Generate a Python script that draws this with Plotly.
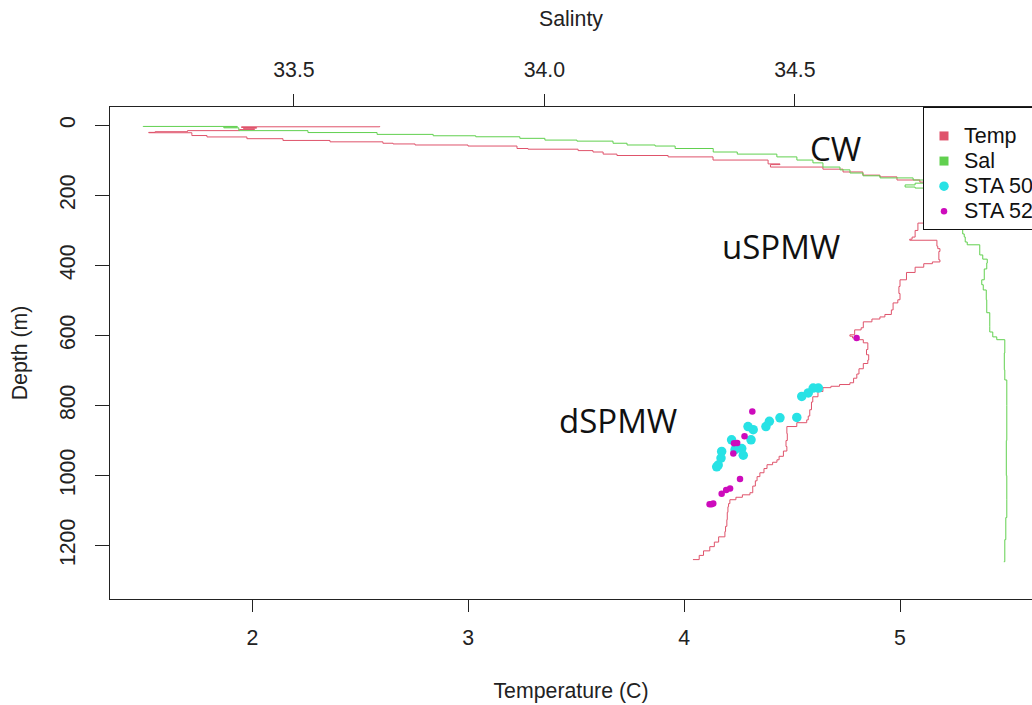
import plotly.graph_objects as go

# ---------------- data ----------------
# Temperature profile: depth (m) and temperature (C)
temp_depth = [2, 4, 6, 8, 10, 12, 15, 18, 20, 21, 25, 29, 33, 38, 43, 47, 51, 53, 56, 59,
              66, 68, 72, 76, 82, 86, 90, 99, 110, 112, 119, 125, 133, 142, 147, 156, 162,
              170, 185, 200, 220, 240, 260, 279, 300, 319, 325, 328, 345, 352, 360, 384,
              390, 395, 405, 420, 441, 460, 480, 498, 507, 527, 540, 547, 553, 561, 578,
              584, 598, 602, 607, 612, 621, 640, 655, 670, 680, 695, 710, 722, 735, 740,
              745, 749, 760, 775, 790, 812, 830, 841, 849, 860, 880, 900, 917, 930, 945,
              955, 962, 969, 980, 992, 1003, 1015, 1030, 1049, 1055, 1062, 1069, 1080,
              1089, 1105, 1126, 1145, 1160, 1175, 1190, 1203, 1215, 1228, 1240]
temp_vals = [2.59, 1.95, 2.02, 1.96, 2.01, 1.94, 1.70, 1.55, 1.52, 1.72, 1.72, 1.79, 1.975,
             2.142, 2.36, 2.605, 2.652, 2.754, 2.999, 3.226, 3.277, 3.509, 3.578, 3.625,
             3.689, 3.926, 4.134, 4.389, 4.444, 4.40, 4.643, 4.736, 4.828, 4.907, 4.986,
             5.092, 5.162, 5.20, 5.22, 5.23, 5.20, 5.17, 5.12, 5.083, 5.07, 5.056, 5.045,
             5.171, 5.175, 5.185, 5.18, 5.185, 5.15, 5.11, 5.07, 5.03, 5.0, 4.995, 5.0,
             4.99, 4.968, 4.96, 4.93, 4.907, 4.87, 4.83, 4.82, 4.79, 4.768, 4.78, 4.80,
             4.83, 4.851, 4.845, 4.855, 4.851, 4.83, 4.81, 4.80, 4.785, 4.768, 4.72, 4.68,
             4.643, 4.62, 4.596, 4.59, 4.582, 4.575, 4.568, 4.522, 4.476, 4.478, 4.472,
             4.476, 4.46, 4.44, 4.43, 4.41, 4.384, 4.37, 4.351, 4.338, 4.33, 4.318, 4.305,
             4.27, 4.24, 4.212, 4.206, 4.203, 4.2, 4.198, 4.192, 4.189, 4.16, 4.14, 4.119,
             4.09, 4.07, 4.041]

# Salinity profile: depth (m) and salinity
sal_depth = [2, 3, 5, 7, 15, 20.5, 25.7, 29.7, 32.5, 37, 42, 45, 51, 56, 59, 66, 76, 82, 90,
             99, 107, 119, 127, 136, 144, 150, 156, 165, 170, 176, 179, 190, 205, 225, 260,
             290, 310, 318.6, 333, 341, 356, 370, 382, 393, 410, 441, 455, 470, 498, 535,
             575, 590, 604, 612, 650, 698, 727, 800, 900, 1000, 1069, 1120, 1183, 1246]
sal_vals = [33.199, 33.387, 33.36, 33.39, 33.528, 33.666, 33.778, 33.863, 33.951, 34.001,
            34.065, 34.137, 34.165, 34.221, 34.261, 34.337, 34.385, 34.464, 34.504, 34.536,
            34.556, 34.590, 34.610, 34.636, 34.670, 34.736, 34.760, 34.74, 34.720, 34.74,
            34.760, 34.78, 34.80, 34.82, 34.83, 34.835, 34.838, 34.840, 34.844, 34.869,
            34.869, 34.875, 34.884, 34.883, 34.878, 34.873, 34.876, 34.882, 34.883, 34.889,
            34.889, 34.895, 34.903, 34.919, 34.918, 34.919, 34.923, 34.923, 34.922, 34.923,
            34.923, 34.921, 34.919, 34.917]

# Station samples: temperature (C) and depth (m)
sta50_temp = [4.622, 4.598, 4.575, 4.545, 4.522, 4.444, 4.395, 4.379, 4.320, 4.296, 4.310,
              4.220, 4.267, 4.274, 4.236, 4.174, 4.171, 4.158, 4.151]
sta50_depth = [750, 750, 764, 774, 834, 835, 845, 860, 869, 860, 898, 898, 923, 942, 926,
               931, 950, 970, 975]
sta52_temp = [4.799, 4.316, 4.280, 4.246, 4.231, 4.228, 4.259, 4.213, 4.195, 4.174, 4.135,
              4.118, 4.127]
sta52_depth = [607, 817, 888, 907, 908, 937, 1010, 1037, 1041, 1052, 1080, 1082, 1082]

# Water-mass labels
label_text = ["CW", "uSPMW", "dSPMW"]
label_temp = [4.699, 4.451, 3.696]
label_depth = [66, 347, 843]

temp_ticks = [2, 3, 4, 5]
sal_ticks = [33.5, 34.0, 34.5]
depth_ticks = [0, 200, 400, 600, 800, 1000, 1200]

# ---------------- styles ----------------
RED = "#DF536B"
GREEN = "#61D04F"
CYAN = "#28E2E5"
MAGENTA = "#CD0BBC"
FONT = "Liberation Sans, Arial, sans-serif"
FS = 21.3
LEG_FS = 17  # controls legend row spacing (~25 px); visible text is drawn larger


def leg_name(s):
    return "<span style='font-size:21.5px'>%s</span>" % s


fig = go.Figure()

fig.add_trace(go.Scatter(x=temp_vals, y=temp_depth, mode="lines", line=dict(color=RED, width=1, shape="vh"),
                         showlegend=False, xaxis="x", yaxis="y"))
fig.add_trace(go.Scatter(x=sal_vals, y=sal_depth, mode="lines", line=dict(color=GREEN, width=1, shape="vh"),
                         showlegend=False, xaxis="x2", yaxis="y"))

# legend entries for the profiles (square keys)
fig.add_trace(go.Scatter(x=[None], y=[None], mode="markers", name=leg_name("Temp"),
                         marker=dict(symbol="square", color=RED, size=9), xaxis="x", yaxis="y"))
fig.add_trace(go.Scatter(x=[None], y=[None], mode="markers", name=leg_name("Sal"),
                         marker=dict(symbol="square", color=GREEN, size=9), xaxis="x", yaxis="y"))

fig.add_trace(go.Scatter(x=sta50_temp, y=sta50_depth, mode="markers", name=leg_name("STA 50"),
                         marker=dict(color=CYAN, size=9.5), xaxis="x", yaxis="y"))
fig.add_trace(go.Scatter(x=sta52_temp, y=sta52_depth, mode="markers", name=leg_name("STA 52"),
                         marker=dict(color=MAGENTA, size=6.5), xaxis="x", yaxis="y"))

for t, xx, yy in zip(label_text, label_temp, label_depth):
    fig.add_annotation(x=xx, y=yy, xref="x", yref="y", text=t, showarrow=False,
                       font=dict(family="Open Sans, sans-serif", size=33, color="#111111"))

axis_common = dict(showgrid=False, zeroline=False, ticks="outside", ticklen=12, tickwidth=1,
                   tickcolor="#222222", showline=True, linecolor="#222222", linewidth=1,
                   tickfont=dict(family=FONT, size=FS, color="#222222"))

fig.update_layout(
    width=1032, height=705,
    margin=dict(l=110, r=0, t=107, b=106, autoexpand=False),
    paper_bgcolor="white", plot_bgcolor="white",
    font=dict(family=FONT, size=FS, color="#222222"),
    xaxis=dict(range=[1.3409, 5.6114], tickvals=temp_ticks, ticktext=[str(v) for v in temp_ticks],
               ticklabelstandoff=7,
               title=dict(text="Temperature (C)", standoff=34, font=dict(family=FONT, size=FS)),
               automargin=False, **axis_common),
    xaxis2=dict(range=[33.1329, 34.9733], overlaying="x", side="top", tickvals=sal_ticks,
                ticktext=["%.1f" % v for v in sal_ticks], ticklabelstandoff=8,
                title=dict(text="Salinty", standoff=26, font=dict(family=FONT, size=FS)),
                automargin=False, **axis_common),
    yaxis=dict(range=[1352.5, -52.5], tickvals=depth_ticks, ticktext=[str(v) for v in depth_ticks],
               tickangle=-90, ticklabelstandoff=11, ticklen=14,
               title=dict(text="Depth (m)", standoff=23, font=dict(family=FONT, size=FS)),
               automargin=False, **{k: v for k, v in axis_common.items() if k != "ticklen"}),
    legend=dict(x=(923 - 110) / 922, y=1, xanchor="left", yanchor="top",
                bgcolor="white", bordercolor="#111111", borderwidth=1,
                title=dict(text=" ", font=dict(size=8)),
                font=dict(family=FONT, size=LEG_FS, color="#111111")),
)

fig.write_html("out.html")
